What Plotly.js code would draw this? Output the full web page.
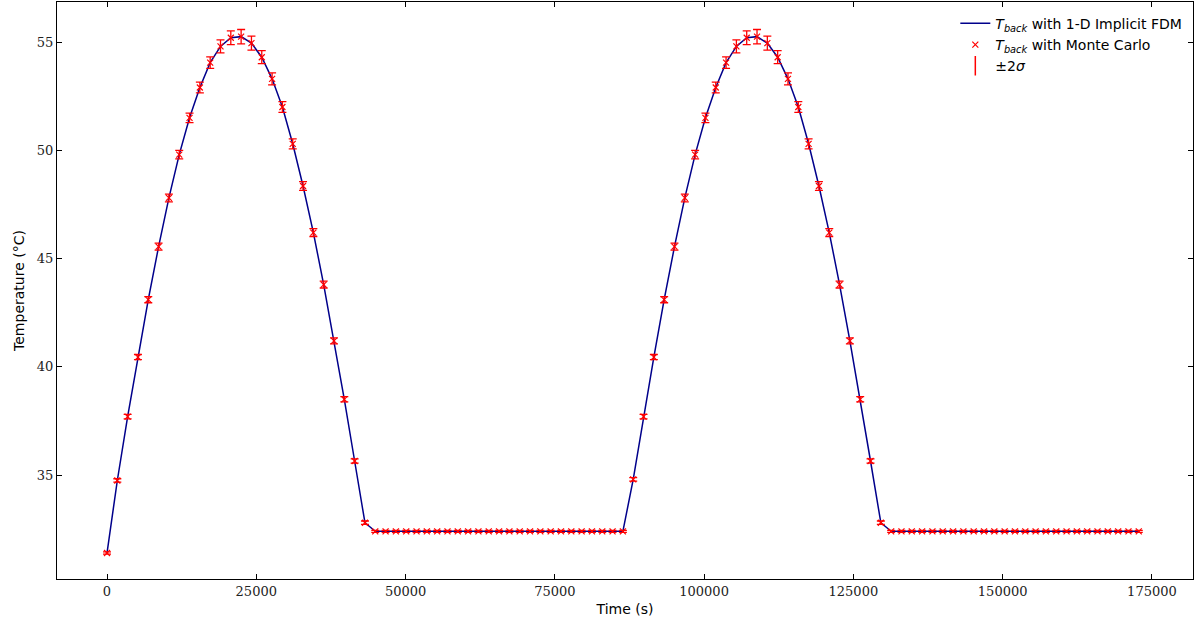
<!DOCTYPE html>
<html>
<head>
<meta charset="utf-8">
<script src="https://cdn.plot.ly/plotly-3.0.1.min.js"></script>
<style>html,body{margin:0;padding:0;background:#fff}</style>
</head>
<body>
<div id="chart" style="width:1198px;height:630px"></div>
<script>
// Monte Carlo samples every 1728 s over two days
const step = 1728;
const dayOne = [31.4, 34.75, 37.7, 40.45, 43.1, 45.55, 47.8, 49.8, 51.5, 52.9, 54.05, 54.8, 55.2, 55.25,
  54.95, 54.3, 53.3, 52.0, 50.3, 48.35, 46.2, 43.8, 41.2, 38.5, 35.65, 32.8];
const dayTwo = [32.4, 34.8, 37.7, 40.45, 43.1, 45.55, 47.8, 49.8, 51.5, 52.9, 54.05, 54.8, 55.2, 55.25,
  54.95, 54.3, 53.3, 52.0, 50.3, 48.35, 46.2, 43.8, 41.2, 38.5, 35.65, 32.8];
const sigma2Day = [0.05, 0.08, 0.1, 0.12, 0.14, 0.16, 0.18, 0.2, 0.22, 0.25, 0.27, 0.3, 0.32, 0.33,
  0.32, 0.3, 0.28, 0.25, 0.23, 0.2, 0.18, 0.16, 0.14, 0.12, 0.1, 0.08];
const flatTemp = 32.4;
const flatErr = 0.05;
const xTicks = [0, 25000, 50000, 75000, 100000, 125000, 150000, 175000];
const yTicks = [35, 40, 45, 50, 55];

const times = [], temps = [], errs = [];
for (let i = 0; i <= 100; i++) {
  times.push(i * step);
  let t, e;
  if (i < 26) { t = dayOne[i]; e = sigma2Day[i]; }
  else if (i >= 50 && i < 76) { t = dayTwo[i - 50]; e = sigma2Day[i - 50]; }
  else { t = flatTemp; e = flatErr; }
  temps.push(t); errs.push(e);
}

const Tback = '<i>T</i><sub><i>back</i></sub>';
const traces = [
  {x: times, y: temps, mode: 'lines', line: {color: '#00008b', width: 1.5},
   name: Tback + ' with 1-D Implicit FDM'},
  {x: times, y: temps, mode: 'markers', marker: {symbol: 'x-thin', size: 6, color: 'red', line: {color: 'red', width: 1.2}},
   error_y: {type: 'data', array: errs, color: 'red', thickness: 1.3, width: 4},
   name: Tback + ' with Monte Carlo'},
  {x: [null], y: [null], mode: 'markers', marker: {symbol: 'line-ns', size: 14, color: 'red', line: {color: 'red', width: 1.5}},
   name: '±2<i>σ</i>'}
];

const axis = {
  showgrid: false, zeroline: false, showline: true, mirror: 'ticks', linecolor: 'black', linewidth: 1.2,
  ticks: 'inside', ticklen: 5, tickcolor: 'black',
  tickfont: {family: 'DejaVu Serif', size: 13, color: '#222'}
};
const layout = {
  margin: {l: 57, r: 5, t: 2, b: 51},
  paper_bgcolor: 'white', plot_bgcolor: 'white',
  font: {family: 'DejaVu Sans', size: 14, color: 'black'},
  showlegend: true,
  legend: {x: 0.995, y: 0.99, xanchor: 'right', yanchor: 'top', bgcolor: 'rgba(255,255,255,0)', font: {size: 14}},
  xaxis: Object.assign({}, axis, {range: [-8374, 181880], tickvals: xTicks, ticktext: xTicks.map(String),
    title: {text: 'Time (s)', standoff: 6, font: {size: 14}}}),
  yaxis: Object.assign({}, axis, {range: [30.2, 56.85], tickvals: yTicks, ticktext: yTicks.map(String),
    title: {text: 'Temperature (°C)', standoff: 8, font: {size: 14}}})
};
Plotly.newPlot('chart', traces, layout, {displayModeBar: false});
</script>
</body>
</html>
